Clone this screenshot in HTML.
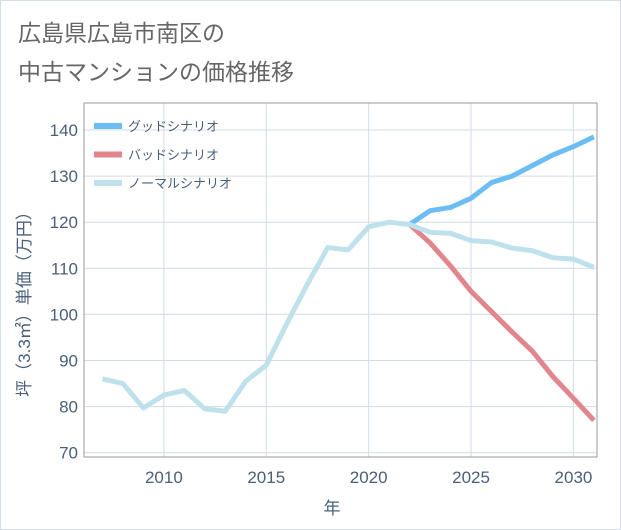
<!DOCTYPE html>
<html><head><meta charset="utf-8"><style>
body{margin:0;background:#fff;}
#card{position:absolute;left:0;top:0;width:619px;height:528px;border:1px solid #d5dde6;background:#fff;}
.t{font-family:"Liberation Sans","Noto Sans CJK JP",sans-serif;}
</style></head><body>
<div id="card">
<svg width="621" height="530" style="position:absolute;left:-1px;top:-1px" class="t" id="svg">
<text x="18" y="41" font-size="23" fill="#666">広島県広島市南区の</text>
<text x="18" y="80" font-size="23" fill="#666">中古マンションの価格推移</text>
<g id="grid"></g>
<rect x="84" y="103" width="513" height="354" fill="none" stroke="#999" stroke-width="1"/>
<g id="series"></g>
<g id="ticks"></g>
<text x="332" y="514" font-size="17" fill="#4a5f7a" text-anchor="middle">年</text>
<text transform="translate(30,300) rotate(-90)" font-size="17" fill="#4a5f7a" text-anchor="middle">坪（3.3㎡）単価（万円）</text>
<g id="legend"></g>
</svg></div>
<script>
const years=[2007,2008,2009,2010,2011,2012,2013,2014,2015,2016,2017,2018,2019,2020,2021,2022,2023,2024,2025,2026,2027,2028,2029,2030,2031];
const normal=[86,85,79.7,82.5,83.5,79.5,79,85.5,89,98,106.5,114.5,114,119,120,119.5,117.8,117.6,116,115.7,114.4,113.8,112.3,112,110.2];
const goodYears=[2022,2023,2024,2025,2026,2027,2028,2029,2030,2031];
const good=[119.5,122.5,123.2,125.2,128.6,130,132.3,134.6,136.4,138.5];
const bad=[119.5,115.5,110.5,105,100.6,96.2,92,86.5,81.8,77];
const yTicks=[70,80,90,100,110,120,130,140];
const xTicks=[2010,2015,2020,2025,2030];
const names=["グッドシナリオ","バッドシナリオ","ノーマルシナリオ"];
const colors=["#6cbdf3","#e0868c","#bfe1ec"];
const NS="http://www.w3.org/2000/svg";
const L=84,R=597,T=103,B=457;
const xs=y=>L+(y-2006.1)*(R-L)/(2031.15-2006.1);
const ys=v=>452.7-(v-70)*4.61;
function mk(tag,at,parent){const e=document.createElementNS(NS,tag);for(const k in at)e.setAttribute(k,at[k]);document.getElementById(parent).appendChild(e);return e;}
yTicks.forEach(v=>{
 const l=mk('line',{x1:L,x2:R,y1:ys(v),y2:ys(v),stroke:'#d3dce6','stroke-width':1},'grid');
 
 
 const t=mk('text',{x:78,y:ys(v)+6,'font-size':17,fill:'#4a5f7a','text-anchor':'end'},'ticks');
 t.textContent=v;
 
 
});
xTicks.forEach(v=>{
 const l=mk('line',{x1:xs(v),x2:xs(v),y1:T,y2:B,stroke:'#d3dce6','stroke-width':1},'grid');
 
 
 const t=mk('text',{x:xs(v),y:483,'font-size':17,fill:'#4a5f7a','text-anchor':'middle'},'ticks');
 t.textContent=v;
 
 
});
mk('clipPath',{id:'cp'},'series').innerHTML='<rect x="84" y="103" width="513" height="354"/>';
function line(xv,yv,c,n){
 const p=mk('polyline',{points:xv.map((x,i)=>xs(x)+','+ys(yv[i])).join(' '),fill:'none',stroke:c,'stroke-width':5,'stroke-linejoin':'round','clip-path':'url(#cp)'},'series');
 
 
}
line(goodYears,good,colors[0],'good-scenario-line');
line(goodYears,bad,colors[1],'bad-scenario-line');
line(years,normal,colors[2],'normal-scenario-line');
names.forEach((n,i)=>{
 const y=126+i*28.5;
 const l=mk('line',{x1:94,x2:122,y1:y,y2:y,stroke:colors[i],'stroke-width':6},'legend');
 
 
 const t=mk('text',{x:128,y:y+5,'font-size':13,fill:'#4a5f7a'},'legend');
 t.textContent=n;
 
 
});
</script>
</body></html>
